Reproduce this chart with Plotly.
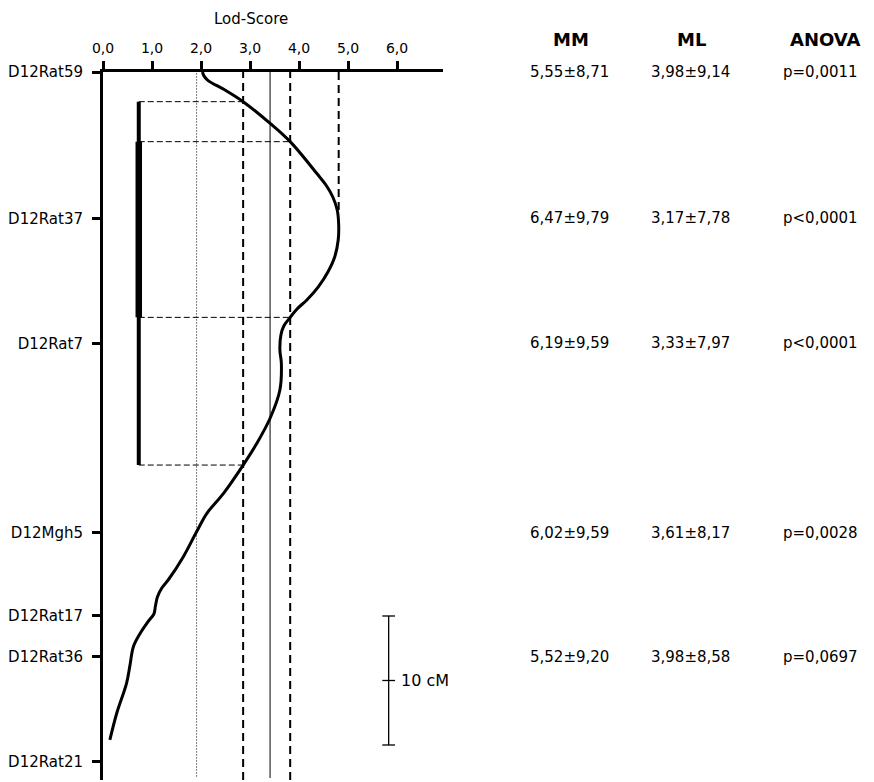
import plotly.graph_objects as go

# ---- marker map (position along chromosome 12, cM from D12Rat59) ----
markers = ["D12Rat59", "D12Rat37", "D12Rat7", "D12Mgh5", "D12Rat17", "D12Rat36", "D12Rat21"]
marker_cm = [0.0, 11.34, 21.03, 35.70, 42.17, 45.33, 53.45]

# ---- LOD profile ----
profile_cm = [0.00, 0.30, 0.65, 1.40, 2.30, 3.98, 5.40, 7.85, 8.76, 9.69, 10.70,
              11.86, 13.02, 14.32, 15.50, 16.67, 17.67, 18.37, 19.02, 19.69, 20.40,
              21.55, 22.58, 24.65, 26.84, 28.78, 30.47, 32.66, 34.21, 35.64, 37.57,
              39.38, 40.00, 40.70, 41.40, 42.00, 42.61, 43.51, 44.55, 46.00, 47.39,
              49.71, 51.78]
profile_lod = [2.03, 2.06, 2.14, 2.49, 2.86, 3.41, 3.82, 4.36, 4.55, 4.69, 4.78,
               4.81, 4.80, 4.73, 4.59, 4.39, 4.16, 3.96, 3.82, 3.69, 3.63,
               3.61, 3.64, 3.61, 3.41, 3.14, 2.86, 2.46, 2.12, 1.91, 1.64,
               1.33, 1.20, 1.11, 1.07, 1.04, 0.92, 0.76, 0.62, 0.55, 0.48,
               0.28, 0.14]

# ---- LOD axis ----
lod_ticks = [0, 1, 2, 3, 4, 5, 6]
lod_tick_text = ["0,0", "1,0", "2,0", "3,0", "4,0", "5,0", "6,0"]

# ---- thresholds ----
suggestive_lod = 1.91
significant_lod = 3.41
support_1lod = 3.82
support_2lod = 2.86

# ---- support intervals (cM) ----
interval_2lod = [2.30, 30.47]
interval_1lod = [5.40, 19.02]
interval_x = 0.73

# ---- genotype means and ANOVA ----
table_markers = ["D12Rat59", "D12Rat37", "D12Rat7", "D12Mgh5", "D12Rat36"]
mm_values = ["5,55±8,71", "6,47±9,79", "6,19±9,59", "6,02±9,59", "5,52±9,20"]
ml_values = ["3,98±9,14", "3,17±7,78", "3,33±7,97", "3,61±8,17", "3,98±8,58"]
anova_values = ["p=0,0011", "p<0,0001", "p<0,0001", "p=0,0028", "p=0,0697"]
headers = ["MM", "ML", "ANOVA"]

# ---- scale bar ----
scale_start_cm = 42.17
scale_length_cm = 10
scale_x = 5.83

FONT = "DejaVu Sans, Liberation Sans, Arial, sans-serif"
FS = 15
W, H = 874, 782
L, R, T, B = 103, 431, 72, 2
PX_PER_LOD = 49.0
PX_PER_CM = 12.9
x_max = (W - L - R) / PX_PER_LOD
y_max = (H - T - B) / PX_PER_CM

fig = go.Figure()

# threshold lines
peak_i = max(range(len(profile_lod)), key=lambda i: profile_lod[i])
peak_lod, peak_cm = profile_lod[peak_i], profile_cm[peak_i]
shapes = [
    dict(type="line", xref="x", yref="paper", x0=suggestive_lod, x1=suggestive_lod, y0=0.005, y1=1,
         line=dict(color="black", width=1, dash="1px,2px"), layer="below"),
    dict(type="line", xref="x", yref="paper", x0=significant_lod, x1=significant_lod, y0=0.003, y1=1,
         line=dict(color="#555555", width=1.5), layer="below"),
    dict(type="line", xref="x", yref="paper", x0=support_2lod, x1=support_2lod, y0=0, y1=1,
         line=dict(color="black", width=2, dash="8px,5px"), layer="below"),
    dict(type="line", xref="x", yref="paper", x0=support_1lod, x1=support_1lod, y0=0, y1=1,
         line=dict(color="black", width=2, dash="8px,5px"), layer="below"),
    dict(type="line", xref="x", yref="y", x0=peak_lod, x1=peak_lod, y0=0, y1=peak_cm - 1.0,
         line=dict(color="black", width=2, dash="8px,5px"), layer="below"),
]
# horizontal dashes linking the interval bar to the support thresholds
for cm, lod in [(interval_2lod[0], support_2lod), (interval_1lod[0], support_1lod),
                (interval_1lod[1], support_1lod), (interval_2lod[1], support_2lod)]:
    shapes.append(dict(type="line", xref="x", yref="y", x0=interval_x, x1=lod, y0=cm, y1=cm,
                       line=dict(color="black", width=1, dash="6px,3px"), layer="below"))

# support interval bars
fig.add_trace(go.Scatter(x=[interval_x, interval_x], y=interval_2lod, mode="lines",
                         line=dict(color="black", width=4), hoverinfo="skip", showlegend=False))
fig.add_trace(go.Scatter(x=[interval_x, interval_x], y=interval_1lod, mode="lines",
                         line=dict(color="black", width=6.5), hoverinfo="skip", showlegend=False))

# LOD curve
fig.add_trace(go.Scatter(x=profile_lod, y=profile_cm, mode="lines",
                         line=dict(color="black", width=3, shape="spline", smoothing=1.0),
                         showlegend=False))

# 10 cM scale bar
scale_end = scale_start_cm + scale_length_cm
scale_mid = scale_start_cm + scale_length_cm / 2
cap = 0.13
fig.add_trace(go.Scatter(
    x=[scale_x, scale_x, None, scale_x - cap, scale_x + cap, None, scale_x - cap, scale_x + cap,
       None, scale_x - cap, scale_x + cap],
    y=[scale_start_cm, scale_end, None, scale_start_cm, scale_start_cm, None, scale_end, scale_end,
       None, scale_mid, scale_mid],
    mode="lines", line=dict(color="black", width=1.3), hoverinfo="skip", showlegend=False))

annotations = [
    dict(text="Lod-Score", xref="x", yref="paper", x=3.02, y=1 + (T - 19) / (H - T - B),
         showarrow=False, font=dict(family=FONT, size=FS, color="black"),
         xanchor="center", yanchor="middle"),
    dict(text=f"{scale_length_cm} cM", xref="x", yref="y", x=scale_x + 0.22, y=scale_mid,
         showarrow=False, font=dict(family=FONT, size=FS + 1, color="black"),
         xanchor="left", yanchor="middle"),
]

col_px = [569, 690, 820]
head_px = [571, 691.5, 825.7]
plot_w = W - L - R
for hx, h in zip(head_px, headers):
    annotations.append(dict(text=f"<b>{h}</b>", xref="paper", yref="paper",
                            x=(hx - L) / plot_w, y=1 + (T - 40) / (H - T - B),
                            showarrow=False, xanchor="center", yanchor="middle",
                            font=dict(family=FONT, size=18, color="black")))
for m, mm, ml, p in zip(table_markers, mm_values, ml_values, anova_values):
    ycm = marker_cm[markers.index(m)]
    for cx, txt in zip(col_px, [mm, ml, p]):
        annotations.append(dict(text=txt, xref="paper", yref="y", x=(cx - L) / plot_w, y=ycm,
                                showarrow=False, xanchor="center", yanchor="middle",
                                font=dict(family=FONT, size=FS, color="black")))

fig.update_layout(
    width=W, height=H,
    margin=dict(l=L, r=R, t=T, b=B, pad=0),
    paper_bgcolor="white", plot_bgcolor="white",
    shapes=shapes, annotations=annotations,
    font=dict(family=FONT, size=FS, color="black"),
    xaxis=dict(range=[0, x_max], side="top", showgrid=False, zeroline=False,
               showline=True, linecolor="black", linewidth=3,
               ticks="outside", ticklen=8, tickwidth=2.5, tickcolor="black",
               tickvals=lod_ticks, ticktext=lod_tick_text, ticklabelstandoff=2,
               tickfont=dict(family=FONT, size=FS - 1, color="black")),
    yaxis=dict(range=[y_max, 0], showgrid=False, zeroline=False,
               showline=True, linecolor="black", linewidth=3,
               ticks="outside", ticklen=8, tickwidth=2.5, tickcolor="black",
               tickvals=marker_cm, ticktext=markers, ticklabelstandoff=6,
               tickfont=dict(family=FONT, size=FS, color="black")),
)

fig.write_html("out.html")
